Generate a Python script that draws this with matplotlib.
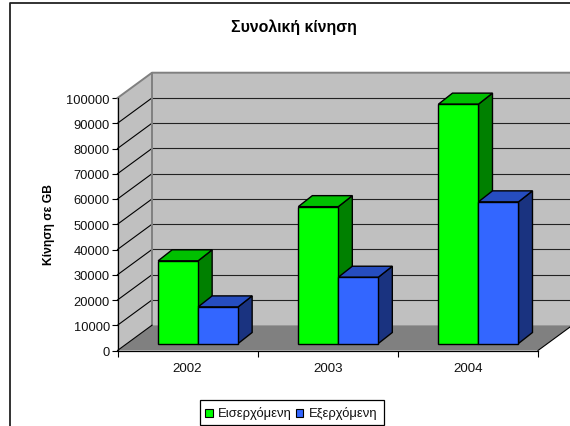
import matplotlib
matplotlib.use('Agg')
import matplotlib.pyplot as plt
from matplotlib.patches import Polygon, Rectangle
import numpy as np

plt.rcParams['font.family'] = ['Liberation Sans', 'DejaVu Sans']

years = ['2002', '2003', '2004']
incoming = [32750, 54200, 94800]
outgoing = [14500, 26250, 56100]
yticks = [0, 10000, 20000, 30000, 40000, 50000, 60000, 70000, 80000, 90000, 100000]

W, H = 570, 427
fig = plt.figure(figsize=(5.7, 4.27), dpi=100)
fig.patch.set_facecolor('white')

# front plane of the fake 3d box, in pixels
left, right, y0, y1 = 117.5, 538, 351.5, 99
ax = fig.add_axes([left / W, 1 - y0 / H, (right - left) / W, (y0 - y1) / H])
ax.set_xlim(0, 3)
ax.set_ylim(0, 100000)
ax.patch.set_visible(False)

# pixels to data units
ux = 3 / (right - left)
uy = 100000 / (y0 - y1)
wall_dx, wall_dy = 34.5 * ux, 25.3 * uy


def poly(pts, fc, ec='none', lw=1.0, z=1):
    ax.add_patch(Polygon(pts, closed=True, facecolor=fc, edgecolor=ec, linewidth=lw,
                         zorder=z, clip_on=False, joinstyle='miter'))


# walls and floor
poly([(3, 0), (3 + wall_dx, wall_dy), (wall_dx, wall_dy), (0, 0)], '#808080')
poly([(wall_dx, wall_dy), (3 + wall_dx, wall_dy), (3 + wall_dx, 100000 + wall_dy), (wall_dx, 100000 + wall_dy)], '#c0c0c0')
poly([(0, 0), (wall_dx, wall_dy), (wall_dx, 100000 + wall_dy), (0, 100000)], '#c0c0c0')

for v in yticks[1:-1]:
    ax.plot([0, wall_dx], [v, v + wall_dy], color='black', lw=0.8, zorder=2, clip_on=False)
    ax.plot([wall_dx, 3 + wall_dx], [v + wall_dy, v + wall_dy], color='#222222', lw=0.8, zorder=2, clip_on=False)
ax.plot([0, wall_dx, 3 + wall_dx], [100000, 100000 + wall_dy, 100000 + wall_dy], color='#808080', lw=1.4, zorder=2, clip_on=False)
ax.plot([wall_dx, wall_dx], [wall_dy, 100000 + wall_dy], color='#808080', lw=1.4, zorder=2, clip_on=False)
ax.plot([3, 3 + wall_dx], [0, wall_dy], color='black', lw=0.8, zorder=2, clip_on=False)
ax.plot([0, wall_dx], [0, wall_dy], color='black', lw=0.8, zorder=2, clip_on=False)

# bars
bar_w = 40 * ux
base = 7 * uy
base_x = 0.29
dx, dy = 14 * ux, 11 * uy


def bar3d(x, v, front, top, side, z):
    t = base + v
    ec = 'black'
    poly([(x + bar_w, base), (x + bar_w + dx, base + dy), (x + bar_w + dx, t + dy), (x + bar_w, t)], side, ec, 1.0, z)
    poly([(x, t), (x + dx, t + dy), (x + bar_w + dx, t + dy), (x + bar_w, t)], top, ec, 1.0, z)
    ax.bar(x, v, width=bar_w, bottom=base, align='edge', color=front, edgecolor=ec, linewidth=1.0, zorder=z + 0.1, clip_on=False)


for i in range(len(years)):
    bar3d(i + base_x, incoming[i], '#00ff00', '#00c000', '#008000', 3 + i)
    bar3d(i + base_x + bar_w, outgoing[i], '#3366ff', '#264dbf', '#1a3380', 3.5 + i)

# axes, ticks
for s in ['top', 'right']:
    ax.spines[s].set_visible(False)
for s in ['left', 'bottom']:
    ax.spines[s].set_linewidth(0.9)
    ax.spines[s].set_zorder(10)
ax.set_yticks(yticks)
ax.set_yticklabels([str(v) for v in yticks], fontsize=9.3, color='#111111')
ax.set_xticks([0, 1, 2, 3])
ax.set_xticklabels([])
ax.set_xticks([0.5, 1.5, 2.5], minor=True)
ax.set_xticklabels(years, minor=True, fontsize=9.6, color='#111111')
ax.tick_params(axis='x', which='minor', length=0, pad=8.5)
ax.tick_params(axis='x', which='major', length=4, width=0.8, direction='out')
ax.tick_params(axis='y', length=4, width=0.8, pad=1.5)

fig.text(293.5 / W, 1 - 27.5 / H, 'Συνολική κίνηση', fontsize=11.4, fontweight='bold', ha='center', va='center')
fig.text(49 / W, 1 - 225 / H, 'Κίνηση σε GB', fontsize=8.7, fontweight='bold', rotation=90, ha='center', va='center')

# chart frame, open on the right and bottom
fig.add_artist(plt.Line2D([10.5 / W, 10.5 / W, 1], [0, 1 - 3.5 / H, 1 - 3.5 / H], color='#222222', lw=1.3))

# legend box
fig.add_artist(Rectangle((200 / W, 1 - 426 / H), 184 / W, 25.5 / H, transform=fig.transFigure,
                         facecolor='white', edgecolor='black', lw=0.9))
for x, c, label in [(205, '#00ff00', 'Εισερχόμενη'), (296, '#3366ff', 'Εξερχόμενη')]:
    fig.add_artist(Rectangle((x / W, 1 - 417.5 / H), 7.5 / W, 7.5 / H, transform=fig.transFigure,
                             facecolor=c, edgecolor='black', lw=0.8))
    fig.text((x + 13) / W, 1 - 413.5 / H, label, fontsize=9.4, ha='left', va='center', color='#111111')

fig.savefig('out.png', dpi=100)
